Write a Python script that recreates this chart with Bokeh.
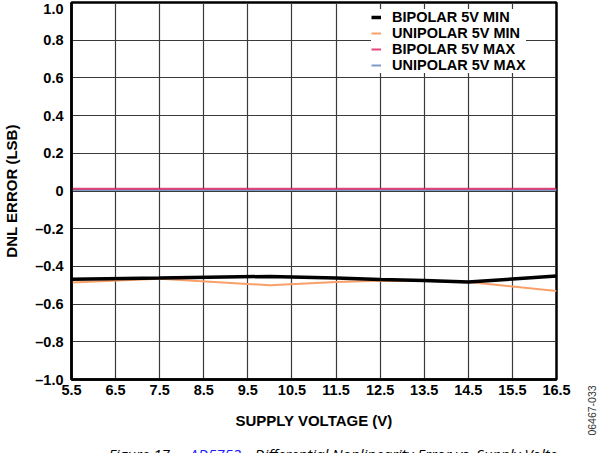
from bokeh.plotting import figure
from bokeh.models import FixedTicker, Range1d, Legend, LegendItem, Label
from bokeh.layouts import row, column
from bokeh.embed import file_html
from bokeh.resources import INLINE
from math import pi

# ---- data ----
supply_v = [5.5, 7.5, 10.0, 11.5, 12.5, 13.5, 14.5, 15.5, 16.5]
bipolar_min = [-0.468, -0.462, -0.453, -0.462, -0.470, -0.475, -0.483, -0.467, -0.451]
unipolar_min = [-0.486, -0.465, -0.500, -0.483, -0.476, -0.477, -0.483, -0.506, -0.530]
bipolar_max = [0.012, 0.012, 0.012, 0.012, 0.012, 0.012, 0.012, 0.012, 0.012]
unipolar_max = [0.005, 0.005, 0.005, 0.005, 0.005, 0.005, 0.005, 0.005, 0.005]

x_ticks = [5.5, 6.5, 7.5, 8.5, 9.5, 10.5, 11.5, 12.5, 13.5, 14.5, 15.5, 16.5]
x_tick_labels = ["5.5", "6.5", "7.5", "8.5", "9.5", "10.5", "11.5", "12.5", "13.5", "14.5", "15.5", "16.5"]
y_ticks = [1.0, 0.8, 0.6, 0.4, 0.2, 0.0, -0.2, -0.4, -0.6, -0.8, -1.0]
y_tick_labels = ["1.0", "0.8", "0.6", "0.4", "0.2", "0", "\u20130.2", "\u20130.4", "\u20130.6", "\u20130.8", "\u20131.0"]

series_names = ["BIPOLAR 5V MIN", "UNIPOLAR 5V MIN", "BIPOLAR 5V MAX", "UNIPOLAR 5V MAX"]
x_title = "SUPPLY VOLTAGE (V)"
y_title = "DNL ERROR (LSB)"
fig_id = "06467-033"
caption_parts = ["Figure 17.", "AD5752", "Differential Nonlinearity Error vs. Supply Voltage"]

FONT = "Liberation Sans"
MAIN_W, MAIN_H = 583, 436
SIDE_W = 21
CAP_H = 17

p = figure(width=MAIN_W, height=MAIN_H, output_backend="svg", toolbar_location=None,
           x_range=Range1d(5.5, 16.5), y_range=Range1d(-1.0, 1.0),
           min_border_left=71, min_border_right=27, min_border_top=2, min_border_bottom=57)
p.background_fill_color = "white"
p.border_fill_color = "white"
p.outline_line_color = "black"
p.outline_line_width = 2.5

for ax in (p.xaxis[0], p.yaxis[0]):
    ax.axis_line_color = "black"
    ax.axis_line_width = 2.5
    ax.major_tick_line_color = None
    ax.minor_tick_line_color = None
    ax.major_tick_out = 0
    ax.major_tick_in = 0
    ax.major_label_text_font = FONT
    ax.major_label_text_font_style = "bold"
    ax.major_label_text_font_size = "14.5px"
    ax.major_label_text_color = "black"
    ax.axis_label_text_font = FONT
    ax.axis_label_text_font_style = "bold"
    ax.axis_label_text_font_size = "15px"
    ax.axis_label_text_color = "black"

p.xaxis.ticker = FixedTicker(ticks=x_ticks)
p.xaxis.major_label_overrides = dict(zip(x_ticks, x_tick_labels))
p.xaxis.major_label_standoff = 5
p.xaxis.axis_label = x_title
p.xaxis.axis_label_standoff = 14

p.yaxis.ticker = FixedTicker(ticks=y_ticks)
p.yaxis.major_label_overrides = dict(zip(y_ticks, y_tick_labels))
p.yaxis.major_label_standoff = 8
p.yaxis.axis_label = y_title
p.yaxis.axis_label_standoff = 12

p.xgrid.ticker = FixedTicker(ticks=x_ticks)
p.ygrid.ticker = FixedTicker(ticks=y_ticks)
for g in (p.xgrid[0], p.ygrid[0]):
    g.grid_line_color = "#3a3a3a"
    g.grid_line_width = 1.2
    g.grid_line_alpha = 1.0

r_umax = p.line(supply_v, unipolar_max, line_color="#7d9ac8", line_width=2)
r_bmax = p.line(supply_v, bipolar_max, line_color="#e0245e", line_width=2, line_alpha=0.85)
r_umin = p.line(supply_v, unipolar_min, line_color="#f9a06a", line_width=2)
r_bmin = p.line(supply_v, bipolar_min, line_color="black", line_width=3.5)

legend = Legend(items=[
    LegendItem(label=series_names[0], renderers=[r_bmin]),
    LegendItem(label=series_names[1], renderers=[r_umin]),
    LegendItem(label=series_names[2], renderers=[r_bmax]),
    LegendItem(label=series_names[3], renderers=[r_umax]),
], location=(300, 306))
legend.margin = 0
legend.padding = 2
legend.spacing = 0
legend.glyph_width = 10
legend.glyph_height = 14
legend.label_height = 14
legend.label_standoff = 11
legend.label_text_font = FONT
legend.label_text_font_style = "bold"
legend.label_text_font_size = "14.5px"
legend.label_text_color = "black"
legend.border_line_color = None
legend.background_fill_color = "white"
legend.background_fill_alpha = 1.0
p.add_layout(legend, "center")


def blank(width, height):
    f = figure(width=width, height=height, output_backend="svg", toolbar_location=None,
               x_axis_type=None, y_axis_type=None, x_range=Range1d(0, 1), y_range=Range1d(0, 1),
               min_border=0, min_border_left=0, min_border_right=0,
               min_border_top=0, min_border_bottom=0)
    f.outline_line_color = None
    f.background_fill_color = "white"
    f.border_fill_color = "white"
    return f


# caption strip (cut off by the window, as in the reference)
cap = blank(MAIN_W, CAP_H)
cap_style = dict(x_units="screen", y_units="screen", text_font="Open Sans",
                 text_font_style="italic", text_font_size="15px", text_baseline="alphabetic", y=0)
cap.add_layout(Label(x=37, text=caption_parts[0], text_color="black", **cap_style))
cap.add_layout(Label(x=118, text=caption_parts[1], text_color="#1a1aff", **cap_style))
cap.add_layout(Label(x=183, text=caption_parts[2], text_color="black", **cap_style))

# side strip with the vertical figure id
side = blank(SIDE_W, MAIN_H + CAP_H)
side.add_layout(Label(x=8, y=43, x_units="screen", y_units="screen", text=fig_id,
                      angle=pi / 2, text_font=FONT, text_font_size="10.5px", text_color="#333333",
                      text_baseline="middle", text_align="center"))

layout = row(column(p, cap), side)
open("out.html", "w").write(file_html(layout, INLINE))
